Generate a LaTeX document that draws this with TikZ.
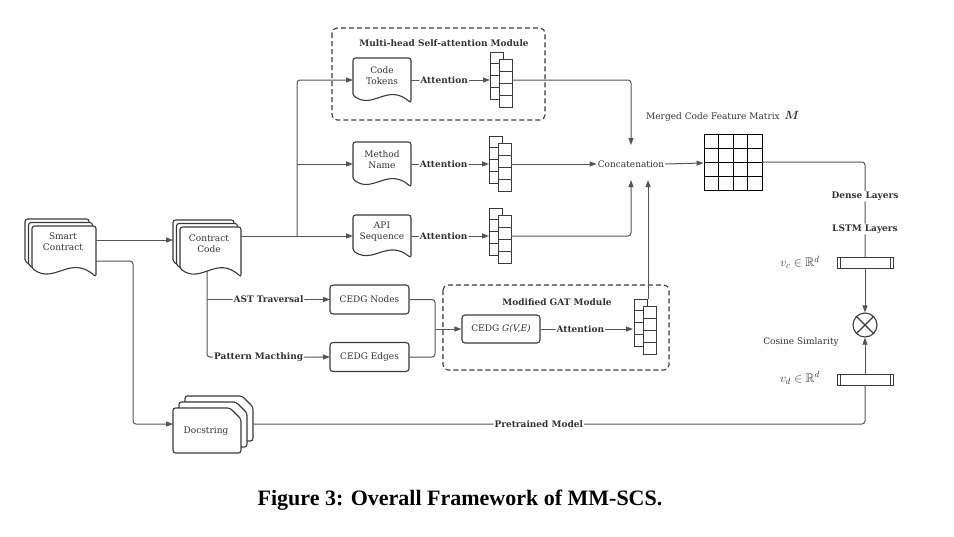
\documentclass[tikz,border=0pt]{standalone}
\usepackage{amsmath}
\usepackage{amssymb}
\usepackage{fontspec}
\setmainfont{DejaVu Serif}
\newfontfamily\capfont{Liberation Serif}
\usetikzlibrary{arrows.meta,calc}
\definecolor{lc}{HTML}{555555}
\definecolor{sc}{HTML}{3a3a3a}
\definecolor{tc}{HTML}{333333}

\newcommand\docshape[4]{\draw[shp] (#1,#2+0.83*#4) -- (#1,#2) -- (#1+#3,#2) -- (#1+#3,#2+#4) .. controls (#1+0.6*#3,#2+0.55*#4) and (#1+0.35*#3,#2+1.15*#4) .. (#1,#2+0.83*#4) -- cycle;}
\newcommand\multidoc[5]{\docshape{#1-2*#5}{#2-2*#5}{#3}{#4}\docshape{#1-#5}{#2-#5}{#3}{#4}\docshape{#1}{#2}{#3}{#4}}
\newcommand\cardshape[4]{\draw[shp] (#1,#2) -- (#1+#3-11,#2) -- (#1+#3,#2+11) -- (#1+#3,#2+#4) -- (#1,#2+#4) -- cycle;}
\newcommand\vstack[2]{%
  \draw[cell] (#1,#2) rectangle (#1+13,#2+47);
  \foreach \k in {1,2,3}{\draw[cell] (#1,#2+\k*11.75) -- (#1+13,#2+\k*11.75);}
  \draw[cell] (#1+9,#2+7) rectangle (#1+22,#2+55);
  \foreach \k in {1,2,3}{\draw[cell] (#1+9,#2+7+\k*12) -- (#1+22,#2+7+\k*12);}
}
\newcommand\vecbox[2]{\draw[cell] (#1,#2) rectangle (#1+56,#2+11);
  \draw[cell] (#1+3,#2) -- (#1+3,#2+11); \draw[cell] (#1+53,#2) -- (#1+53,#2+11);}

\begin{document}
\begin{tikzpicture}[x=1pt,y=-1pt,
  shp/.style={draw=sc, fill=white, line width=1.1pt, rounded corners=2.5pt},
  cell/.style={draw=sc, fill=white, line width=0.8pt},
  ln/.style={draw=lc, line width=1.0pt, rounded corners=3pt},
  arr/.style={ln, -{Triangle[length=7pt,width=5pt]}},
  txt/.style={font=\fontsize{9}{11}\selectfont, text=tc, align=center, inner sep=1pt},
  mtxt/.style={font=\fontsize{12.5}{14}\selectfont, text=tc, inner sep=1pt},
  lab/.style={font=\fontsize{9}{11}\selectfont\bfseries, text=tc, fill=white, inner sep=1pt},
  rbox/.style={draw=sc, fill=white, line width=1.1pt, rounded corners=3pt, minimum width=79pt, minimum height=29pt, font=\fontsize{9}{11}\selectfont, text=tc},
  dbox/.style={draw=sc, dash pattern=on 5pt off 3pt, line width=1.1pt, rounded corners=5pt},
]
\useasboundingbox (0,0) rectangle (954,536);

% dashed modules
\draw[dbox] (332,28) rectangle (545,120);
\node[lab, fill=none] (mhtitle) at (444,43) {Multi-head Self-attention Module};
\draw[dbox] (443,285) rectangle (669,370);
\node[lab, fill=none] (gattitle) at (557,302) {Modified GAT Module};

% lower branches from Contract Code (drawn first, under the shape)
\coordinate (ccB) at (207,268);
\draw[arr] (ccB) -- (207,357) -- node[lab,pos=0.42]{Pattern Macthing} (330,357);
\draw[arr] (207,299.5) -- node[lab,pos=0.5]{AST Traversal} (330,299.5);

% Smart Contract
\multidoc{32}{226}{64}{51}{3.5}
\node[txt] (smart) at (63,242) {Smart\\Contract};
% Contract Code
\multidoc{180}{227}{61}{50}{3.5}
\node[txt] (ccode) at (209,243.5) {Contract\\Code};
% Docstring
\cardshape{185}{396}{68}{45}
\cardshape{179}{402}{68}{45}
\cardshape{173}{408}{68}{45}
\node[txt] (doc) at (206,431) {Docstring};

\coordinate (scE1) at (96,240);
\coordinate (scE2) at (96,261);
\coordinate (ccW) at (173,240);
\coordinate (dsW) at (173,424);
\coordinate (dsE) at (253,424);
\coordinate (ccE) at (241,236);

\draw[arr] (scE1) -- (ccW);
\draw[arr] (scE2) -- (133,261) -- (133,424) -- (dsW);

% code docs
\docshape{353}{58}{58}{45}
\node[txt] (ctok) at (382,76) {Code\\Tokens};
\docshape{353}{142}{58}{45}
\node[txt] (mname) at (382,160) {Method\\Name};
\docshape{353}{215}{58}{43}
\node[txt] (api) at (382,231.5) {API\\Sequence};

\draw[arr] (ccE) -- (353,236);
\draw[arr] (297,236) -- (297,80) -- (353,80);
\draw[arr] (297,164) -- (353,164);

% attention arrows and stacks
\draw[arr] (411,80) -- node[lab,pos=0.42]{Attention} (490,80);
\draw[arr] (411,164) -- node[lab,pos=0.42]{Attention} (489,164);
\draw[arr] (411,236) -- node[lab,pos=0.42]{Attention} (489,236);
\vstack{490}{52}
\vstack{489}{136}
\vstack{489}{208}

% concatenation
\node[txt] (concat) at (631,164) {Concatenation};
\draw[arr] (512,80) -- (631,80) -- (631,145);
\draw[arr] (511,164) -- (concat.west);
\draw[arr] (511,236) -- (631,236) -- (631,180);
\draw[arr] (648,299) -- (648,180);

% matrix
\node[draw=black, line width=0.9pt, minimum width=58pt, minimum height=56pt, inner sep=0] (mat) at (733,162) {};
\foreach \i in {1,2,3}{
  \draw[black, line width=0.9pt] (704+\i*14.5,134) -- (704+\i*14.5,190);
  \draw[black, line width=0.9pt] (704,134+\i*14) -- (762,134+\i*14);
}
\draw[arr] (concat.east) -- (mat.west |- 0,163);
\node[txt, anchor=west] (mlab) at (645,116) {Merged Code Feature Matrix\enspace{\fontsize{12}{12}\selectfont$\boldsymbol{M}$}};

% right chain
\draw[ln] (762,162) -- (865,162) -- node[lab,pos=0.36]{Dense Layers} node[lab,pos=0.705]{LSTM Layers} (865,257);
\vecbox{837}{257}
\vecbox{837}{374}
\node[circle, draw=sc, line width=1.1pt, minimum size=24pt, inner sep=0] (cos) at (865,325) {};
\draw[sc, line width=1.1pt] (cos.45) -- (cos.225) (cos.135) -- (cos.315);
\draw[arr] (865,268) -- (cos.north);
\draw[arr] (865,374) -- (cos.south);
\node[mtxt] (vc) at (800,262) {$v_c \in \mathbb{R}^d$};
\node[mtxt] (vd) at (800,378) {$v_d \in \mathbb{R}^d$};
\node[txt] (cosl) at (801,342) {Cosine Simlarity};

\draw[ln] (dsE) -- node[lab,pos=0.467]{Pretrained Model} (865,424) -- (865,385);

% CEDG part
\node[rbox] (cn) at (369.5,299.5) {CEDG Nodes};
\node[rbox] (ce) at (369.5,357) {CEDG Edges};
\node[rbox, minimum width=78pt, minimum height=28pt] (gv) at (501,329) {CEDG \textit{G(V,E)}};
\draw[ln] (cn.east) -- (435,299.5) -- (435,329);
\draw[ln] (ce.east) -- (435,357) -- (435,329);
\draw[arr] (435,329) -- (gv.west);
\draw[arr] (gv.east) -- node[lab,pos=0.43]{Attention} (633,329);
\vstack{634}{299}

% caption
\node[font=\capfont\bfseries\fontsize{22}{24}\selectfont] (cap) at (460,500) {Figure 3: Overall Framework of MM-SCS.};
\end{tikzpicture}
\end{document}
